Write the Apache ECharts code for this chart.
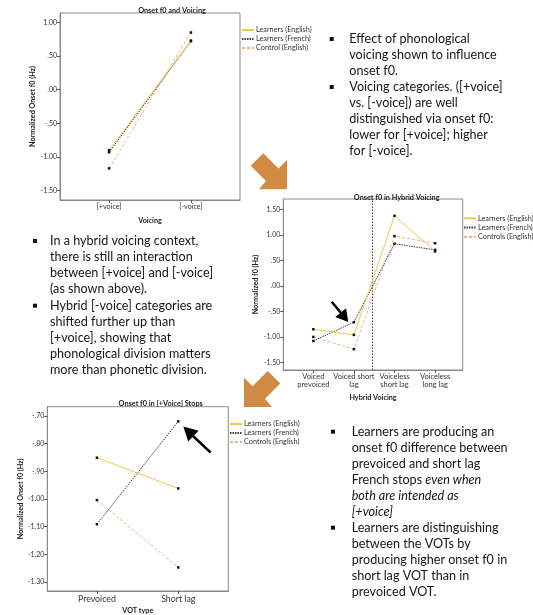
<!DOCTYPE html>
<html>
<head>
<meta charset="utf-8">
<script src="https://cdn.jsdelivr.net/npm/echarts@6/dist/echarts.min.js"></script>
<style>
html,body{margin:0;padding:0;background:#fff;}
#chart{width:533px;height:615px;}
</style>
</head>
<body>
<div id="chart"></div>
<script>
// ---- Data ----
const voicingCats = ['[+voice]', '[-voice]'];
const voicingLearnersEn = [-0.90, 0.73];
const voicingLearnersFr = [-0.93, 0.72];
const voicingControl = [-1.17, 0.85];
const voicingNames = ['Learners (English)', 'Learners (French)', 'Control (English)'];

const hybridCats = ['Voiced\nprevoiced', 'Voiced short\nlag', 'Voiceless\nshort lag', 'Voiceless\nlong lag'];
const hybridLearnersEn = [-0.85, -0.96, 1.38, 0.68];
const hybridLearnersFr = [-1.08, -0.71, 0.83, 0.71];
const hybridControls = [-1.00, -1.24, 0.98, 0.84];
const hybridNames = ['Learners (English)', 'Learners (French)', 'Controls (English)'];
const hybridDivider = 1.45;

const stopsCats = ['Prevoiced', 'Short lag'];
const stopsLearnersEn = [-0.851, -0.962];
const stopsLearnersFr = [-1.091, -0.720];
const stopsControls = [-1.004, -1.247];
const stopsNames = ['Learners (English)', 'Learners (French)', 'Controls (English)'];

const voicingTicks = [-1.5, -1.0, -0.5, 0, 0.5, 1.0];
const hybridTicks = [-1.5, -1.0, -0.5, 0, 0.5, 1.0, 1.5];
const stopsTicks = [-1.3, -1.2, -1.1, -1.0, -0.9, -0.8, -0.7];

// ---- Styles ----
const FONT = 'Lato';
const COL_EN = '#EFC94C';
const COL_FR = '#3d3d3d';
const COL_CT = '#F4B183';
const lineStyles = [
  {color: COL_EN, width: 1, type: 'solid'},
  {color: COL_FR, width: 1, type: [1.5, 1]},
  {color: COL_CT, width: 1, type: [3, 2]}
];

function fmtTick(v) {
  let s = (Math.round(v * 100) / 100).toFixed(2);
  return s.replace(/^(-?)0\./, '$1.');
}

function toPts(vals) { return vals.map((v, i) => [i, v]); }

const axisGray = '#8a8a8a';
function xAxisCfg(gridIndex, cats, min, max, name, nameGap, fontSize, lh) {
  return {
    type: 'value', gridIndex, min, max,
    name, nameLocation: 'middle', nameGap,
    nameTextStyle: {fontFamily: FONT, fontSize: 7.2, fontWeight: 'bold', color: '#222'},
    axisLine: {show: true, onZero: false, lineStyle: {color: axisGray}},
    axisTick: {show: true, length: 3, lineStyle: {color: '#555'}, customValues: cats.map((c, i) => i)},
    axisLabel: {show: true, customValues: cats.map((c, i) => i), formatter: v => cats[Math.round(v)],
      fontFamily: FONT, fontSize, color: '#333', margin: 3, lineHeight: lh},
    splitLine: {show: false}
  };
}
function yAxisCfg(gridIndex, ticks, min, max, name, nameGap) {
  return {
    type: 'value', gridIndex, min, max,
    name, nameLocation: 'middle', nameGap,
    nameTextStyle: {fontFamily: FONT, fontSize: 7.2, fontWeight: 'bold', color: '#222'},
    axisLine: {show: true, onZero: false, lineStyle: {color: axisGray}},
    axisTick: {show: true, length: 3, lineStyle: {color: '#555'}, customValues: ticks},
    axisLabel: {show: true, customValues: ticks, formatter: fmtTick, fontFamily: FONT, fontSize: 7, color: '#333', margin: 3},
    splitLine: {show: false}
  };
}

function mkSeries(names, valsArr, idx) {
  return names.map((n, k) => ({
    type: 'line', name: n, xAxisIndex: idx, yAxisIndex: idx,
    data: toPts(valsArr[k]),
    symbol: 'rect', symbolSize: 2.5,
    itemStyle: {color: '#111'},
    lineStyle: lineStyles[k],
    silent: true, animation: false, z: 3 - k + 2
  }));
}

const series = [].concat(
  mkSeries(voicingNames, [voicingLearnersEn, voicingLearnersFr, voicingControl], 0),
  mkSeries(hybridNames, [hybridLearnersEn, hybridLearnersFr, hybridControls], 1),
  mkSeries(stopsNames, [stopsLearnersEn, stopsLearnersFr, stopsControls], 2)
);
// divider line in hybrid chart
series[3].markLine = {
  silent: true, symbol: 'none', label: {show: false}, animation: false,
  lineStyle: {color: '#444', type: [1.5, 1.5], width: 1},
  data: [{xAxis: hybridDivider}]
};

function legendCfg(names, left, top, gap) {
  return {
    data: names, orient: 'vertical', left, top, padding: 0,
    itemWidth: 12, itemHeight: 7, itemGap: gap, selectedMode: false,
    itemStyle: {opacity: 0},
    textStyle: {fontFamily: FONT, fontSize: 7.3, color: '#333', padding: [0, 0, 0, -3]}
  };
}

// ---- Slide text ----
const TXT = '12.6px ' + FONT;
const textTR = ['Effect of phonological', 'voicing shown to influence', 'onset f0.',
  'Voicing categories. ([+voice]', 'vs. [-voice]) are well', 'distinguished via onset f0:',
  'lower for [+voice]; higher', 'for [-voice].'].join('\n');
const textML = ['In a hybrid voicing context,', 'there is still an interaction',
  'between [+voice] and [-voice]', '(as shown above).', 'Hybrid [-voice] categories are',
  'shifted further up than', '[+voice], showing that', 'phonological division matters',
  'more than phonetic division.'].join('\n');
const textBR = ['{n|Learners are producing an}', '{n|onset f0 difference between}',
  '{n|prevoiced and short lag}', '{n|French stops }{i|even when}', '{i|both are intended as}',
  '{i|[+voice]}', '{n|Learners are distinguishing}', '{n|between the VOTs by}',
  '{n|producing higher onset f0 in}', '{n|short lag VOT than in}', '{n|prevoiced VOT.}'].join('\n');

function bullet(x, y) {
  return {type: 'rect', shape: {x: x - 2, y: y - 2, width: 4, height: 4}, style: {fill: '#111'}, silent: true};
}
const ORANGE = '#D08A43';
const INK = '#151515';

const graphic = [
  {type: 'text', x: 349.3, y: 31, style: {text: textTR, font: TXT, fill: INK, lineHeight: 16}},
  bullet(331.7, 39), bullet(331.7, 87),
  {type: 'text', x: 50, y: 233, style: {text: textML, font: TXT, fill: INK, lineHeight: 16.1}},
  bullet(35, 241), bullet(35, 305.7),
  {type: 'text', x: 351.7, y: 423.7, style: {text: textBR, fill: INK,
    rich: {n: {fontFamily: FONT, fontSize: 12.6, lineHeight: 16, fill: INK},
           i: {fontFamily: FONT, fontSize: 12.6, lineHeight: 16, fontStyle: 'italic', fill: INK}}}},
  bullet(333, 431.7), bullet(333, 527.7),
  // orange arrows
  {type: 'polygon', shape: {points: [[263.3,153.3],[278.5,168.5],[287,160],[287,189.3],[259,189.3],[266,181],[250.7,165.7]]}, style: {fill: ORANGE}, silent: true},
  {type: 'polygon', shape: {points: [[267.7,371],[252.5,386.2],[244,377.7],[244,407],[272,407],[265,398.7],[280.3,383.4]]}, style: {fill: ORANGE}, silent: true},
  // black arrows
  {type: 'line', shape: {x1: 331.7, y1: 301.7, x2: 341, y2: 313}, style: {stroke: '#000', lineWidth: 2.5}, silent: true, z: 20},
  {type: 'polygon', shape: {points: [[348.3,322],[335.3,317.1],[346.1,308.3]]}, style: {fill: '#000'}, silent: true, z: 20},
  {type: 'line', shape: {x1: 210.7, y1: 452.7, x2: 193, y2: 436}, style: {stroke: '#000', lineWidth: 2.5}, silent: true, z: 20},
  {type: 'polygon', shape: {points: [[183.3,426.5],[198.6,430.8],[188.2,441.6]]}, style: {fill: '#000'}, silent: true, z: 20}
];

const option = {
  backgroundColor: '#fff',
  animation: false,
  title: [
    {text: 'Onset f0 and Voicing', left: 167, top: 2, textAlign: 'center',
      textStyle: {fontFamily: FONT, fontSize: 7.3, fontWeight: 'bold', color: '#222'}},
    {text: 'Onset f0 in Hybrid Voicing', left: 391.7, top: 189.5, textAlign: 'center',
      textStyle: {fontFamily: FONT, fontSize: 7.3, fontWeight: 'bold', color: '#222'}},
    {text: 'Onset f0 in [+Voice] Stops', left: 155.7, top: 395, textAlign: 'center',
      textStyle: {fontFamily: FONT, fontSize: 7.3, fontWeight: 'bold', color: '#222'}}
  ],
  legend: [
    legendCfg(voicingNames, 241, 26.5, 2),
    legendCfg(hybridNames, 463, 214.8, 2.3),
    legendCfg(stopsNames, 229, 420.5, 2)
  ],
  grid: [
    {left: 60, top: 13, width: 180, height: 187, show: true, borderColor: axisGray, borderWidth: 1},
    {left: 283.3, top: 199, width: 179.4, height: 171, show: true, borderColor: axisGray, borderWidth: 1},
    {left: 47.3, top: 406.7, width: 181, height: 187.6, show: true, borderColor: axisGray, borderWidth: 1}
  ],
  xAxis: [
    xAxisCfg(0, voicingCats, -0.6, 1.6, 'Voicing', 17, 7.2, 8),
    xAxisCfg(1, hybridCats, -0.74, 3.68, 'Hybrid Voicing', 24, 7.5, 7.7),
    xAxisCfg(2, stopsCats, -0.61, 1.615, 'VOT type', 16, 8.8, 10)
  ],
  yAxis: [
    yAxisCfg(0, voicingTicks, -1.64, 1.14, 'Normalized Onset f0 (Hz)', 23),
    yAxisCfg(1, hybridTicks, -1.65, 1.71, 'Normalized f0 (Hz)', 24),
    yAxisCfg(2, stopsTicks, -1.332, -0.667, 'Normalized Onset f0 (Hz)', 23)
  ],
  series,
  graphic
};

const chart = echarts.init(document.getElementById('chart'), null, {renderer: 'canvas'});
chart.setOption(option);
</script>
</body>
</html>
